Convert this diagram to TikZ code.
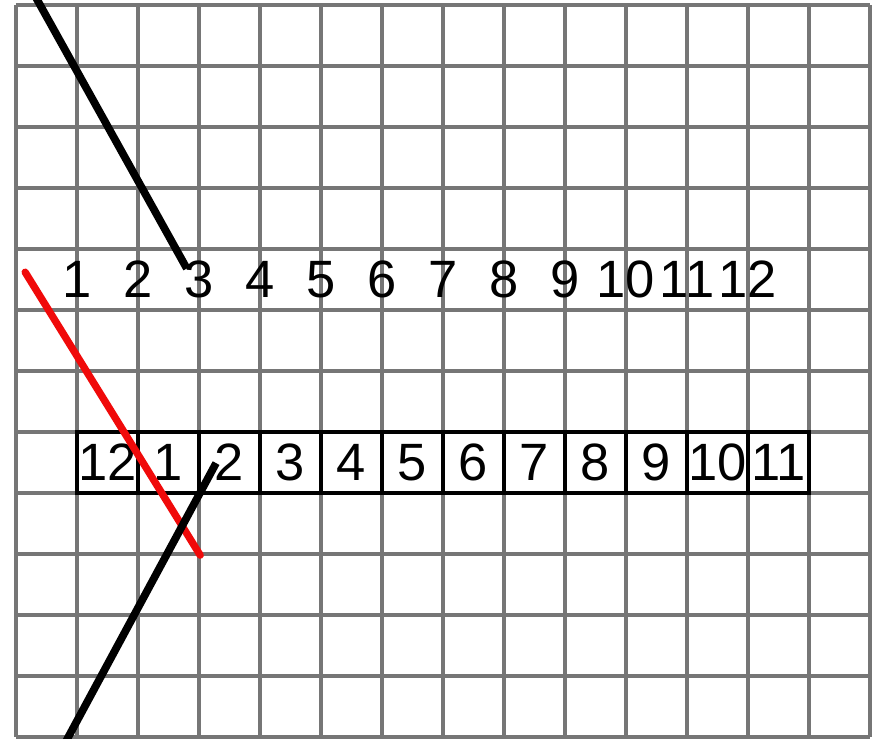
\documentclass[tikz,border=0pt]{standalone}
\usepackage{fontspec}
\setmainfont{Liberation Sans}
\definecolor{gridgray}{RGB}{118,118,118}
\definecolor{penred}{RGB}{240,10,10}
\tikzset{
  gridline/.style={draw=gridgray, line width=1.5pt},
  numlabel/.style={inner sep=0pt, font=\fontsize{24.5}{28}\selectfont},
  cellbox/.style={draw=black, line width=1.9pt, fill=white, minimum size=1cm, inner sep=0pt, font=\fontsize{24.5}{28}\selectfont},
  blackpen/.style={draw=black, line width=3.6pt},
  redpen/.style={draw=penred, line width=3.4pt, line cap=round},
}
\begin{document}
\begin{tikzpicture}
\useasboundingbox (-0.2623,-0.0328) rectangle (14.082,12.082);
\clip (-0.2623,-0.0328) rectangle (14.082,12.082);
\fill[white] (-0.2623,-0.0328) rectangle (14.082,12.082);
% grid
\foreach \i in {0,...,14} {\draw[gridline] (\i,0) -- (\i,12);}
\foreach \j in {0,...,12} {\draw[gridline] (0,\j) -- (14,\j);}
% top row of numbers
\foreach \k in {1,...,12} {\node[numlabel] (t\k) at (\k,7.5) {\k};}
% boxed row
\node[cellbox] (b1) at (1.5,4.5) {12};
\foreach \k [evaluate=\k as \lab using int(\k-1)] in {2,...,12} {
  \node[cellbox] (b\k) at (\k+0.5,4.5) {\lab};
}
% lines
\coordinate (rs) at (0.15,7.62);
\coordinate (re) at (3.02,2.98);
\draw[redpen] (rs) -- (re);
\coordinate (ts) at (0.2,12.35);
\coordinate (te) at (2.8,7.68);
\draw[blackpen] (ts) -- (te);
\coordinate (bs) at (3.28,4.49);
\coordinate (be) at (0.75,-0.2);
\draw[blackpen] (bs) -- (be);
\end{tikzpicture}
\end{document}
